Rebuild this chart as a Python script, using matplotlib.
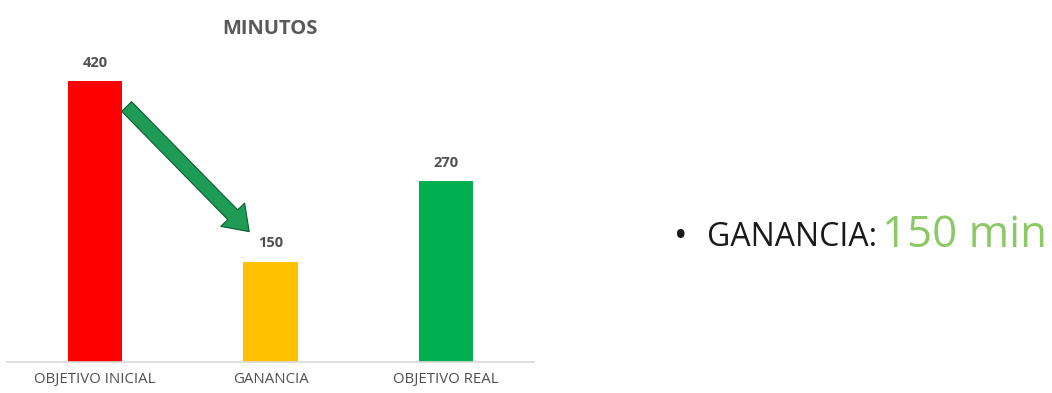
import matplotlib
matplotlib.use("Agg")
import matplotlib.pyplot as plt
from matplotlib.patches import FancyArrowPatch

categories = ["OBJETIVO INICIAL", "GANANCIA", "OBJETIVO REAL"]
values = [420, 150, 270]
colors = ["#FF0000", "#FFC000", "#00B050"]
title = "MINUTOS"
side_label = "GANANCIA:"
side_value = "150 min"

plt.rcParams['font.family'] = ['Open Sans', 'DejaVu Sans']

fig = plt.figure(figsize=(10.52, 3.93), dpi=100)
ax = fig.add_axes([7/1052, 31/393, 527/1052, 321/393])
x = list(range(len(categories)))
ax.bar(x, values, width=0.31, color=colors, zorder=2)
ax.set_xlim(-0.5, 2.5)
ax.set_ylim(0, 480)
for s in ["top", "right", "left"]:
    ax.spines[s].set_visible(False)
ax.spines["bottom"].set_color("#D9D9D9")
ax.spines["bottom"].set_linewidth(1.2)
ax.set_yticks([])
ax.set_xticks(x)
ax.set_xticklabels(categories, fontsize=10.8, color="#505050")
ax.tick_params(axis="x", length=0, pad=7)

for xi, v in zip(x, values):
    ax.text(xi, v + 17, str(v), ha="center", va="bottom", fontsize=10.5,
            fontweight="bold", color="#505050")

fig.text(270/1052, 1 - 29/393, title, ha="center", va="center", fontsize=14.5,
         fontweight="bold", color="#595959")

# arrow from the top of the first bar down to the second bar
arrow = FancyArrowPatch((0 + 0.17, values[0] - 35), (1 - 0.11, values[1] + 42),
                        arrowstyle="simple,head_width=2.4,head_length=1.7,tail_width=1.0",
                        mutation_scale=10, facecolor="#1E9B55", edgecolor="#0F5C33",
                        linewidth=0.8, zorder=3)
ax.add_patch(arrow)

fig.text(674/1052, 1 - 238/393, "•", ha="left", va="center", fontsize=26, color="#1a1a1a")
fig.text(707/1052, 1 - 238/393, side_label, ha="left", va="center",
         fontsize=23, color="#1a1a1a")
fig.text(882/1052, 1 - 236/393, side_value, ha="left", va="center",
         fontsize=31.5, color="#8CC866")

fig.savefig("out.png", dpi=100)
